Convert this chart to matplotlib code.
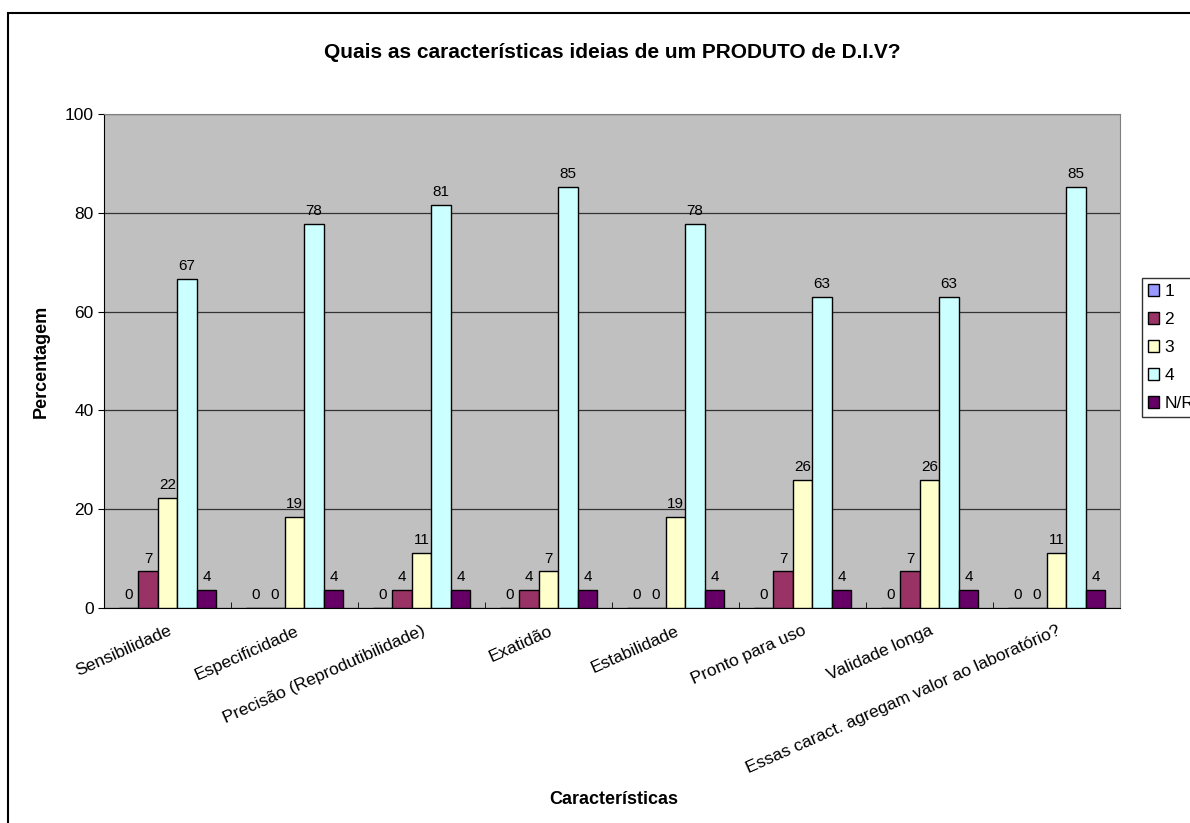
import matplotlib.pyplot as plt
import matplotlib
from matplotlib.patches import Rectangle
import numpy as np

plt.rcParams['font.family'] = ['Liberation Sans', 'DejaVu Sans']

categories = ["Sensibilidade", "Especificidade", "Precisão (Reprodutibilidade)",
              "Exatidão", "Estabilidade", "Pronto para uso", "Validade longa",
              "Essas caract. agregam valor ao laboratório?"]
series_names = ["1", "2", "3", "4", "N/R"]

vals_1 = [0, 0, 0, 0, 0, 0, 0, 0]
vals_2 = [7.4, 0, 3.7, 3.7, 0, 7.4, 7.4, 0]
vals_3 = [22.2, 18.5, 11.1, 7.4, 18.5, 25.9, 25.9, 11.1]
vals_4 = [66.7, 77.8, 81.5, 85.2, 77.8, 63.0, 63.0, 85.2]
vals_nr = [3.7, 3.7, 3.7, 3.7, 3.7, 3.7, 3.7, 3.7]

# labels as shown on top of bars
lab_1 = [0, 0, 0, 0, 0, 0, 0, 0]
lab_2 = [7, 0, 4, 4, 0, 7, 7, 0]
lab_3 = [22, 19, 11, 7, 19, 26, 26, 11]
lab_4 = [67, 78, 81, 85, 78, 63, 63, 85]
lab_nr = [4, 4, 4, 4, 4, 4, 4, 4]

colors = ["#9999FF", "#993366", "#FFFFCC", "#CCFFFF", "#660066"]

fig = plt.figure(figsize=(11.9, 8.23), dpi=100)
ax = fig.add_axes([104/1190, 1-608/823, (1120-104)/1190, (608-114)/823])
ax.set_facecolor("#C0C0C0")

x = np.arange(len(categories))
w = 0.154
all_vals = [vals_1, vals_2, vals_3, vals_4, vals_nr]
all_labs = [lab_1, lab_2, lab_3, lab_4, lab_nr]
for i in range(5):
	pos = x + (i - 2) * w
	ax.bar(pos, all_vals[i], w, color=colors[i], edgecolor="black",
		linewidth=1.0, label=series_names[i], zorder=3)
	for j in range(len(categories)):
		ax.text(pos[j], all_vals[i][j] + 1.2, str(all_labs[i][j]),
			ha="center", va="bottom", fontsize=11)

ax.set_xlim(-0.5, len(categories) - 0.5)
ax.set_ylim(0, 100)
ax.set_yticks([0, 20, 40, 60, 80, 100])
ax.yaxis.grid(True, color="#333333", linewidth=0.9, zorder=0)
ax.set_axisbelow(True)
ax.tick_params(axis="y", labelsize=12.5, length=4, direction="out")
ax.set_xticks(x)
ax.set_xticklabels(categories, rotation=24, ha="right", rotation_mode="anchor", fontsize=12.5)
ax.tick_params(axis="x", length=0, pad=11)
# category separator ticks
ax.set_xticks(np.arange(len(categories) + 1) - 0.5, minor=True)
ax.tick_params(axis="x", which="minor", length=4, direction="in")

for s in ["top", "right"]:
	ax.spines[s].set_color("#808080")
for s in ["left", "bottom"]:
	ax.spines[s].set_color("black")

ax.set_ylabel("Percentagem", fontsize=13, fontweight="bold")
ax.yaxis.set_label_coords(-0.053, 0.5)
ax.set_xlabel("Características", fontsize=13, fontweight="bold", va="top")
ax.xaxis.set_label_coords(0.502, -0.37)
fig.text(612/1190, 1-52/823, "Quais as características ideias de um PRODUTO de D.I.V?",
	ha="center", va="center", fontsize=15, fontweight="bold")

leg = ax.legend(loc="upper left", bbox_to_anchor=(1142/1190, 1-278/823),
	bbox_transform=fig.transFigure, fontsize=12.5, frameon=True, fancybox=False,
	handlelength=0.65, handleheight=0.65, handletextpad=0.3, labelspacing=0.75,
	borderpad=0.35, borderaxespad=0)
leg.get_frame().set_edgecolor("black")
leg.get_frame().set_linewidth(1.0)

fig.patches.append(Rectangle((8/1190, -0.05), 1.1, 1-13/823+0.05,
	transform=fig.transFigure, fill=False, edgecolor="black", linewidth=1.5))

plt.savefig("out.png", dpi=100)
